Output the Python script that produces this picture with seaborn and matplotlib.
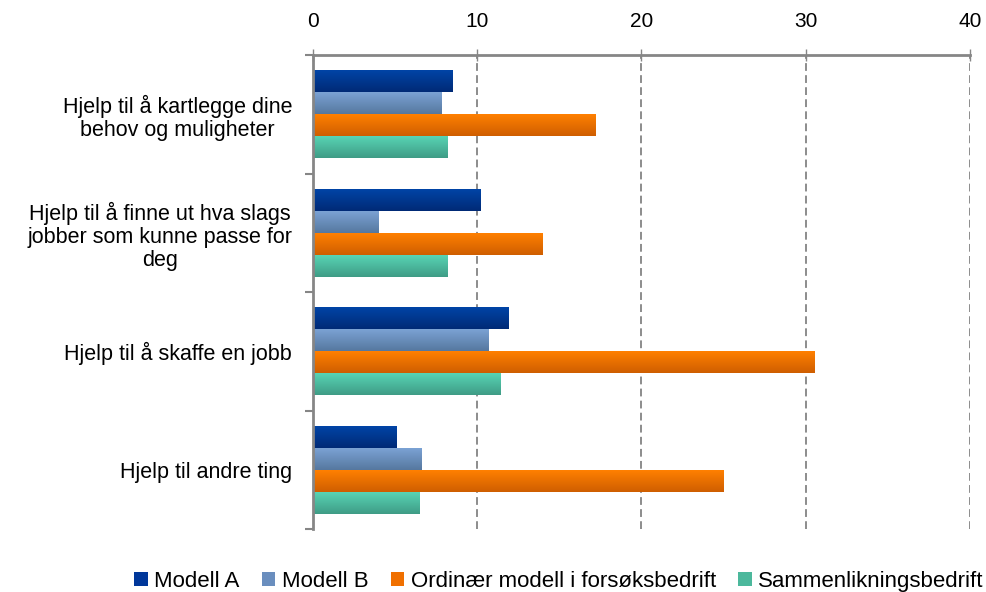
import numpy as np
import pandas as pd
import matplotlib
matplotlib.use("Agg")
import matplotlib.pyplot as plt
import seaborn as sns
from matplotlib.patches import Patch
from matplotlib.colors import to_rgb

categories = [
    "Hjelp til å kartlegge dine\nbehov og muligheter",
    "Hjelp til å finne ut hva slags\njobber som kunne passe for\ndeg",
    "Hjelp til å skaffe en jobb",
    "Hjelp til andre ting",
]
series = ["Modell A", "Modell B", "Ordinær modell i forsøksbedrift", "Sammenlikningsbedrift"]
modell_a = [8.5, 10.2, 11.9, 5.1]
modell_b = [7.8, 4.0, 10.7, 6.6]
ordinaer = [17.2, 14.0, 30.5, 25.0]
sammen = [8.2, 8.2, 11.4, 6.5]
x_ticks = [0, 10, 20, 30, 40]

colors_top = ["#0044A6", "#7BA2D4", "#FF8000", "#58D4B4"]
colors_bot = ["#002A76", "#56789F", "#CF5E00", "#3F9C86"]
colors_mid = ["#00379A", "#6A8EBE", "#F07000", "#4CB89C"]

rows = []
for s, vals in zip(series, [modell_a, modell_b, ordinaer, sammen]):
    for c, v in zip(categories, vals):
        rows.append({"category": c, "series": s, "value": v})
df = pd.DataFrame(rows)

sns.set_style("white")
plt.rcParams["font.family"] = ["Liberation Sans", "DejaVu Sans"]
plt.rcParams["text.color"] = "black"
plt.rcParams["xtick.labelcolor"] = "black"
plt.rcParams["ytick.labelcolor"] = "black"

fig = plt.figure(figsize=(9.86, 5.92), dpi=100)
ax = fig.add_axes([0.3174, 0.1064, 0.6664, 0.8007])

sns.barplot(data=df, y="category", x="value", hue="series", orient="h",
            palette=colors_mid, width=0.742, errorbar=None, ax=ax,
            hue_order=series, order=categories, legend=False, saturation=1)

# gradient fills
for i, container in enumerate(ax.containers):
    top = np.array(to_rgb(colors_top[i]))
    bot = np.array(to_rgb(colors_bot[i]))
    grad = np.linspace(0, 1, 64)[:, None, None]
    img = top[None, None, :] * (1 - grad) + bot[None, None, :] * grad
    for p in container.patches:
        x0 = p.get_x(); w = p.get_width()
        y0 = p.get_y(); h = p.get_height()
        p.set_edgecolor("none")
        im = ax.imshow(img, extent=(x0, x0 + w, y0 + h, y0), origin="upper",
                       aspect="auto", zorder=p.get_zorder() + 0.1, interpolation="bilinear")
        im.set_clip_path(p)

ax.set_xlim(0, 40)
ax.set_ylim(3.5, -0.5)
ax.set_xlabel("")
ax.set_ylabel("")

ax.xaxis.tick_top()
ax.set_xticks(x_ticks)
ax.set_xticklabels([str(t) for t in x_ticks])
ax.tick_params(axis="x", which="major", direction="inout", length=8, width=1,
               color="#868686", labelsize=15, pad=13, labelcolor="black")

ax.set_yticks(range(len(categories)))
ax.set_yticklabels(categories)
for lbl in ax.get_yticklabels():
    lbl.set_multialignment("center")
    lbl.set_fontsize(15.5)
    lbl.set_linespacing(1.12)
    lbl.set_color("black")
ax.tick_params(axis="y", which="major", length=0, pad=15)
ax.set_yticks([-0.5, 0.5, 1.5, 2.5, 3.5], minor=True)
ax.tick_params(axis="y", which="minor", direction="out", length=6, width=1.5, color="#868686", left=True)

ax.grid(False)
for xv in x_ticks[1:]:
    ax.axvline(xv, color="#8C8C8C", linestyle=(0, (4, 2.2)), linewidth=1.4, zorder=0.5)

for side in ["right", "bottom"]:
    ax.spines[side].set_visible(False)
for side in ["top", "left"]:
    ax.spines[side].set_visible(True)
    ax.spines[side].set_color("#868686")
ax.spines["top"].set_linewidth(2)
ax.spines["left"].set_linewidth(2)

handles = [Patch(facecolor=c, edgecolor="none") for c in colors_mid]
fig.legend(handles, series, loc="lower center", bbox_to_anchor=(0.567, -0.034), ncol=4,
           frameon=False, fontsize=16, handlelength=0.6, handleheight=0.6,
           handletextpad=0.3, columnspacing=1.0, labelcolor="black")

fig.savefig("out.png", dpi=100)
